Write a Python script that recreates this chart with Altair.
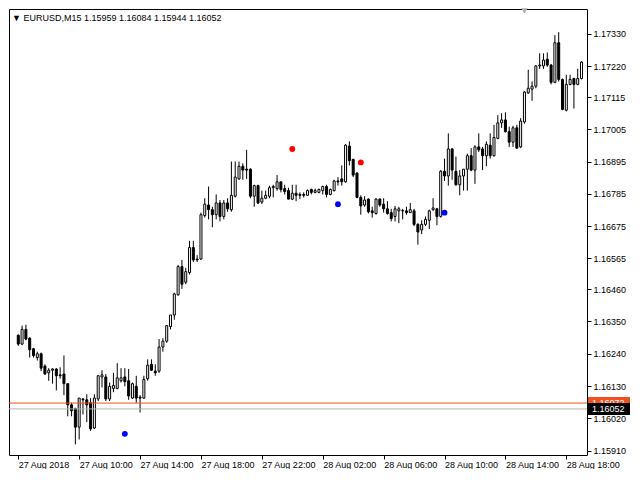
import altair as alt
import pandas as pd

# ---- OHLC of the 149 visible M15 bars (27 Aug 2018 06:00 -> 28 Aug 2018 19:00) ----
opens = [
    1.16303, 1.16273, 1.16323, 1.16293, 1.16257, 1.16227, 1.16240, 1.16198, 1.16175, 1.16184,
    1.16188, 1.16168, 1.16171, 1.16138, 1.16066, 1.16053, 1.15990, 1.16086, 1.16083, 1.16073,
    1.15987, 1.16086, 1.16161, 1.16161, 1.16086, 1.16122, 1.16122, 1.16148, 1.16161, 1.16148,
    1.16089, 1.16129, 1.16092, 1.16089, 1.16155, 1.16204, 1.16181, 1.16181, 1.16263, 1.16283,
    1.16333, 1.16372, 1.16441, 1.16537, 1.16484, 1.16517, 1.16602, 1.16563, 1.16563, 1.16711,
    1.16747, 1.16731, 1.16714, 1.16754, 1.16708, 1.16754, 1.16731, 1.16777, 1.16836, 1.16879,
    1.16869, 1.16869, 1.16777, 1.16813, 1.16757, 1.16770, 1.16777, 1.16806, 1.16803, 1.16826,
    1.16803, 1.16796, 1.16767, 1.16787, 1.16783, 1.16783, 1.16780, 1.16800, 1.16790, 1.16790,
    1.16796, 1.16810, 1.16783, 1.16796, 1.16829, 1.16836, 1.16826, 1.16948, 1.16902, 1.16856,
    1.16773, 1.16747, 1.16767, 1.16727, 1.16718, 1.16767, 1.16750, 1.16734, 1.16721, 1.16708,
    1.16727, 1.16727, 1.16727, 1.16721, 1.16727, 1.16681, 1.16662, 1.16681, 1.16695, 1.16731,
    1.16734, 1.16708, 1.16862, 1.16846, 1.16938, 1.16862, 1.16816, 1.16846, 1.16869, 1.16915,
    1.16866, 1.16945, 1.16938, 1.16915, 1.16951, 1.16915, 1.16974, 1.17027, 1.17037, 1.16997,
    1.16961, 1.17010, 1.16945, 1.17030, 1.17129, 1.17142, 1.17152, 1.17221, 1.17221, 1.17244,
    1.17224, 1.17165, 1.17300, 1.17175, 1.17070, 1.17158, 1.17178, 1.17158, 1.17178,
]
highs = [
    1.16306, 1.16336, 1.16339, 1.16296, 1.16260, 1.16247, 1.16244, 1.16204, 1.16191, 1.16191,
    1.16191, 1.16194, 1.16234, 1.16138, 1.16073, 1.16056, 1.16089, 1.16089, 1.16102, 1.16089,
    1.16102, 1.16168, 1.16184, 1.16171, 1.16142, 1.16175, 1.16208, 1.16191, 1.16191, 1.16188,
    1.16142, 1.16165, 1.16099, 1.16165, 1.16221, 1.16221, 1.16204, 1.16290, 1.16293, 1.16336,
    1.16372, 1.16448, 1.16543, 1.16560, 1.16533, 1.16625, 1.16625, 1.16576, 1.16721, 1.16770,
    1.16810, 1.16741, 1.16783, 1.16764, 1.16764, 1.16770, 1.16895, 1.16895, 1.16895, 1.16889,
    1.16935, 1.16872, 1.16816, 1.16816, 1.16796, 1.16796, 1.16813, 1.16816, 1.16849, 1.16826,
    1.16816, 1.16806, 1.16816, 1.16816, 1.16790, 1.16790, 1.16800, 1.16803, 1.16803, 1.16803,
    1.16813, 1.16816, 1.16803, 1.16833, 1.16842, 1.16882, 1.16954, 1.16964, 1.16905, 1.16859,
    1.16780, 1.16777, 1.16770, 1.16741, 1.16770, 1.16770, 1.16770, 1.16760, 1.16734, 1.16744,
    1.16741, 1.16734, 1.16741, 1.16754, 1.16734, 1.16685, 1.16695, 1.16708, 1.16731, 1.16770,
    1.16737, 1.16866, 1.16905, 1.16991, 1.16941, 1.16912, 1.16866, 1.16869, 1.16922, 1.16941,
    1.16951, 1.16991, 1.16945, 1.16964, 1.16991, 1.17020, 1.17053, 1.17060, 1.17063, 1.17014,
    1.17017, 1.17020, 1.17043, 1.17135, 1.17208, 1.17168, 1.17224, 1.17264, 1.17264, 1.17267,
    1.17228, 1.17326, 1.17336, 1.17178, 1.17191, 1.17191, 1.17181, 1.17211, 1.17237,
]
lows = [
    1.16267, 1.16270, 1.16286, 1.16227, 1.16227, 1.16217, 1.16181, 1.16168, 1.16148, 1.16138,
    1.16115, 1.16155, 1.16099, 1.16027, 1.16027, 1.15931, 1.15948, 1.16033, 1.16007, 1.15977,
    1.15984, 1.16079, 1.16125, 1.16079, 1.16079, 1.16109, 1.16119, 1.16142, 1.16129, 1.16083,
    1.16086, 1.16073, 1.16040, 1.16086, 1.16148, 1.16181, 1.16165, 1.16175, 1.16247, 1.16277,
    1.16323, 1.16356, 1.16438, 1.16461, 1.16477, 1.16510, 1.16553, 1.16553, 1.16560, 1.16704,
    1.16698, 1.16671, 1.16698, 1.16691, 1.16698, 1.16724, 1.16724, 1.16773, 1.16833, 1.16833,
    1.16836, 1.16770, 1.16741, 1.16750, 1.16750, 1.16767, 1.16770, 1.16773, 1.16796, 1.16790,
    1.16783, 1.16767, 1.16764, 1.16760, 1.16767, 1.16773, 1.16780, 1.16783, 1.16787, 1.16787,
    1.16783, 1.16773, 1.16780, 1.16793, 1.16813, 1.16813, 1.16823, 1.16882, 1.16842, 1.16770,
    1.16714, 1.16741, 1.16718, 1.16704, 1.16714, 1.16741, 1.16721, 1.16714, 1.16691, 1.16691,
    1.16685, 1.16698, 1.16714, 1.16721, 1.16675, 1.16612, 1.16648, 1.16675, 1.16665, 1.16727,
    1.16678, 1.16704, 1.16829, 1.16813, 1.16833, 1.16813, 1.16780, 1.16796, 1.16796, 1.16862,
    1.16819, 1.16928, 1.16866, 1.16879, 1.16905, 1.16912, 1.16971, 1.17010, 1.16994, 1.16945,
    1.16945, 1.16938, 1.16941, 1.17024, 1.17126, 1.17102, 1.17145, 1.17211, 1.17211, 1.17218,
    1.17158, 1.17162, 1.17168, 1.17070, 1.17066, 1.17155, 1.17076, 1.17155, 1.17175,
]
closes = [
    1.16273, 1.16323, 1.16290, 1.16254, 1.16234, 1.16240, 1.16191, 1.16171, 1.16184, 1.16188,
    1.16165, 1.16165, 1.16138, 1.16066, 1.16046, 1.15990, 1.16089, 1.16083, 1.16066, 1.15984,
    1.16089, 1.16165, 1.16168, 1.16086, 1.16129, 1.16132, 1.16158, 1.16158, 1.16145, 1.16096,
    1.16138, 1.16089, 1.16089, 1.16152, 1.16201, 1.16184, 1.16175, 1.16263, 1.16283, 1.16336,
    1.16372, 1.16444, 1.16537, 1.16477, 1.16520, 1.16602, 1.16560, 1.16560, 1.16714, 1.16750,
    1.16731, 1.16714, 1.16754, 1.16708, 1.16754, 1.16734, 1.16780, 1.16842, 1.16879, 1.16866,
    1.16866, 1.16777, 1.16813, 1.16754, 1.16770, 1.16780, 1.16806, 1.16810, 1.16826, 1.16800,
    1.16793, 1.16767, 1.16787, 1.16780, 1.16780, 1.16780, 1.16796, 1.16790, 1.16796, 1.16800,
    1.16810, 1.16783, 1.16800, 1.16829, 1.16826, 1.16826, 1.16951, 1.16898, 1.16849, 1.16773,
    1.16744, 1.16764, 1.16724, 1.16721, 1.16767, 1.16747, 1.16734, 1.16718, 1.16701, 1.16734,
    1.16734, 1.16728, 1.16721, 1.16731, 1.16681, 1.16655, 1.16681, 1.16698, 1.16727, 1.16737,
    1.16708, 1.16862, 1.16846, 1.16938, 1.16866, 1.16816, 1.16846, 1.16869, 1.16915, 1.16866,
    1.16945, 1.16935, 1.16915, 1.16954, 1.16915, 1.16977, 1.17027, 1.17037, 1.16997, 1.16961,
    1.17010, 1.16941, 1.17033, 1.17132, 1.17145, 1.17152, 1.17221, 1.17224, 1.17241, 1.17224,
    1.17165, 1.17300, 1.17175, 1.17073, 1.17158, 1.17175, 1.17158, 1.17178, 1.17234,
]

# signal dots (bar index, price, colour)
dot_bar = [28, 72, 84, 90, 112]
dot_price = [1.15967, 1.16938, 1.16750, 1.16892, 1.16721]
dot_color = ["#0000ff", "#ff0000", "#0000ff", "#ff0000", "#0000ff"]

# axes
price_ticks = [1.15910, 1.16020, 1.16130, 1.16240, 1.16350, 1.16460, 1.16565,
               1.16675, 1.16785, 1.16895, 1.17005, 1.17115, 1.17220, 1.17330]
time_tick_bars = [0, 16, 32, 48, 64, 80, 96, 112, 128, 144]
time_tick_labels = ["27 Aug 2018", "27 Aug 10:00", "27 Aug 14:00", "27 Aug 18:00",
                    "27 Aug 22:00", "28 Aug 02:00", "28 Aug 06:00", "28 Aug 10:00",
                    "28 Aug 14:00", "28 Aug 18:00"]

header = "\u25BC EURUSD,M15  1.15959 1.16084 1.15944 1.16052"
bid_price = 1.16052
ask_price = 1.16072

W, H = 578, 446
FONT = "Liberation Sans"

df = pd.DataFrame({"bar": list(range(len(opens))), "open": opens, "high": highs,
                   "low": lows, "close": closes})

xscale = alt.Scale(domain=[-1.125, 148.125], nice=False, zero=False)
yscale = alt.Scale(domain=[1.15895, 1.17415], nice=False, zero=False)

label_expr = "[" + ",".join("'%s'" % s for s in time_tick_labels) + "][round(datum.value/16)]"

xaxis = alt.Axis(values=time_tick_bars, labelExpr=label_expr, title=None, grid=False,
                 domain=False, ticks=True, tickSize=4, tickColor="black",
                 labelAlign="left", labelBaseline="top", labelPadding=1,
                 labelFont=FONT, labelFontSize=9, labelColor="black",
                 labelOverlap=False, labelFlush=False, labelBound=False)
yaxis = alt.Axis(orient="right", values=price_ticks, format=".5f", title=None,
                 grid=False, domain=False, ticks=True, tickSize=4, tickColor="black",
                 labelPadding=2, labelFont=FONT, labelFontSize=9, labelColor="black",
                 labelOverlap=False, labelFlush=False, labelBound=False)


def X(field):
    return alt.X(field, scale=xscale, axis=xaxis)


def Y(field):
    return alt.Y(field, scale=yscale, axis=yaxis)


base = alt.Chart(df)

wicks = base.mark_rule(color="black", strokeWidth=1).encode(
    x=X("bar:Q"), y=Y("low:Q"), y2="high:Q")

bodies = base.mark_bar(size=2, stroke="black", strokeWidth=1).encode(
    x=X("bar:Q"), y=Y("open:Q"), y2="close:Q",
    fill=alt.condition("datum.close >= datum.open", alt.value("white"), alt.value("black")),
)

ask_line = alt.Chart(pd.DataFrame({"p": [ask_price]})).mark_rule(
    color="#f0501e", strokeWidth=1).encode(y=Y("p:Q"))
bid_line = alt.Chart(pd.DataFrame({"p": [bid_price]})).mark_rule(
    color="#b4b4b4", strokeWidth=1).encode(y=Y("p:Q"))

dots = alt.Chart(pd.DataFrame({"bar": dot_bar, "p": dot_price, "c": dot_color})).mark_circle(
    size=34, opacity=1).encode(
    x=X("bar:Q"), y=Y("p:Q"), color=alt.Color("c:N", scale=None))

box_shape = "M0,-1L7,-1L7,1L0,1Z"
ask_box = alt.Chart(pd.DataFrame({"p": [ask_price]})).mark_point(
    shape=box_shape, size=144, filled=True, opacity=1, color="#f0501e", strokeWidth=0).encode(
    x=alt.value(W + 1), y=Y("p:Q"))
ask_text = alt.Chart(pd.DataFrame({"p": [ask_price], "t": ["%.5f" % ask_price]})).mark_text(
    align="left", baseline="middle", font=FONT, fontSize=9, color="white").encode(
    x=alt.value(W + 5), y=Y("p:Q"), text="t:N")
bid_box = alt.Chart(pd.DataFrame({"p": [bid_price]})).mark_point(
    shape=box_shape, size=144, filled=True, opacity=1, color="black", strokeWidth=0).encode(
    x=alt.value(W + 1), y=Y("p:Q"))
bid_text = alt.Chart(pd.DataFrame({"p": [bid_price], "t": ["%.5f" % bid_price]})).mark_text(
    align="left", baseline="middle", font=FONT, fontSize=9, color="white").encode(
    x=alt.value(W + 5), y=Y("p:Q"), text="t:N")

title = alt.Chart(pd.DataFrame({"t": [header]})).mark_text(
    align="left", baseline="middle", font=FONT, fontSize=9, color="black").encode(
    x=alt.value(3), y=alt.value(9), text="t:N")

shift_marker = alt.Chart(pd.DataFrame({"bar": [133]})).mark_point(
    shape="triangle-down", size=40, filled=True, opacity=1, color="#b0b0b0").encode(
    x=X("bar:Q"), y=alt.value(2))

chart = alt.layer(
    wicks, bodies, ask_line, bid_line, dots,
    ask_box, ask_text, bid_box, bid_text, title, shift_marker,
).properties(width=W, height=H, background="white", padding=0).configure_view(
    stroke="black", strokeWidth=1)

chart.save("out.html", embed_options={"renderer": "svg", "actions": False})
